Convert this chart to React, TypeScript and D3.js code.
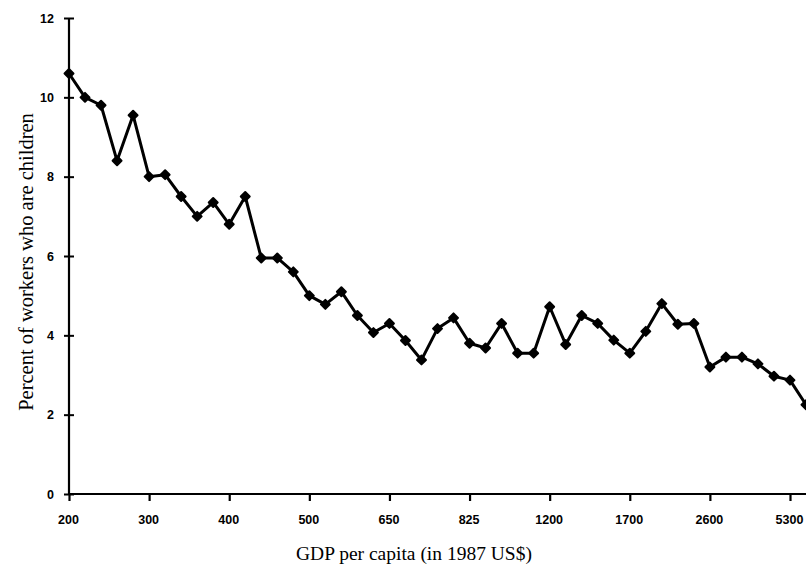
import { useRef, useEffect } from 'react'
import * as d3 from 'd3'

// percent of workers who are children, one value per GDP step
const childShare = [
  10.6, 10.0, 9.8, 8.4, 9.55, 8.0, 8.05, 7.5, 7.0, 7.35, 6.8, 7.5, 5.95, 5.95,
  5.6, 5.0, 4.78, 5.1, 4.5, 4.07, 4.3, 3.87, 3.38, 4.17, 4.44, 3.8, 3.68, 4.3,
  3.55, 3.55, 4.72, 3.77, 4.5, 4.3, 3.88, 3.55, 4.1, 4.8, 4.28, 4.3, 3.2, 3.45,
  3.45, 3.28, 2.97, 2.87, 2.25,
]
const xTickLabels = ['200', '300', '400', '500', '650', '825', '1200', '1700', '2600', '5300']
const xTickIndex = [0, 5, 10, 15, 20, 25, 30, 35, 40, 45]
const yTicks = [0, 2, 4, 6, 8, 10, 12]

const tickFont = '"Liberation Sans", Arial, sans-serif'
const titleFont = '"Liberation Serif", "Times New Roman", serif'

export default function App() {
  const ref = useRef<SVGSVGElement>(null)
  const width = 806
  const height = 566

  useEffect(() => {
    const svg = d3.select(ref.current)
    svg.selectAll('*').remove()

    const x = d3.scaleLinear().domain([0, 45]).range([69, 790])
    const y = d3.scaleLinear().domain([0, 12]).range([494, 18])

    // x axis
    const xAxis = svg
      .append('g')
      .attr('transform', `translate(0,${y(0)})`)
      .call(
        d3
          .axisBottom(x)
          .tickValues(xTickIndex)
          .tickSize(7)
          .tickPadding(14)
          .tickFormat((d, i) => xTickLabels[i])
      )
    xAxis.select('.domain').remove()
    xAxis
      .append('line')
      .attr('x1', x(0))
      .attr('x2', width)
      .attr('stroke', '#000')
      .attr('stroke-width', 2.2)
    xAxis.selectAll('.tick line').attr('stroke', '#000').attr('stroke-width', 2.2)
    xAxis
      .selectAll('.tick text')
      .attr('fill', '#000')
      .attr('font-family', tickFont)
      .attr('font-weight', 'bold')
      .attr('font-size', 12.5)
      .attr('dx', -1)

    // y axis
    const yAxis = svg
      .append('g')
      .attr('transform', `translate(${x(0)},0)`)
      .call(d3.axisLeft(y).tickValues(yTicks).tickSize(5).tickPadding(10))
    yAxis.select('.domain').remove()
    yAxis
      .append('line')
      .attr('y1', y(0))
      .attr('y2', y(12))
      .attr('stroke', '#000')
      .attr('stroke-width', 2.2)
    yAxis
      .selectAll('.tick line')
      .attr('x2', 5)
      .attr('x1', -5)
      .attr('stroke', '#000')
      .attr('stroke-width', 2)
    yAxis
      .selectAll('.tick text')
      .attr('fill', '#000')
      .attr('font-family', tickFont)
      .attr('font-weight', 'bold')
      .attr('font-size', 12.5)

    // series line
    const line = d3
      .line<number>()
      .x((d, i) => x(i))
      .y((d) => y(d))
    svg
      .append('path')
      .datum(childShare)
      .attr('d', line)
      .attr('fill', 'none')
      .attr('stroke', '#000')
      .attr('stroke-width', 3)
      .attr('stroke-linejoin', 'round')

    const marker = d3.symbol().type(d3.symbolSquare).size(40)
    svg
      .append('g')
      .selectAll('path')
      .data(childShare)
      .join('path')
      .attr('d', marker)
      .attr('transform', (d, i) => `translate(${x(i)},${y(d)}) rotate(45)`)
      .attr('fill', '#000')
      .attr('stroke', '#000')
      .attr('stroke-width', 2)
      .attr('stroke-linejoin', 'round')

    // titles
    svg
      .append('text')
      .attr('x', 414)
      .attr('y', 560)
      .attr('text-anchor', 'middle')
      .attr('font-family', titleFont)
      .attr('font-size', 19.5)
      .attr('fill', '#000')
      .text('GDP per capita (in 1987 US$)')

    svg
      .append('text')
      .attr('transform', 'translate(33,262) rotate(-90)')
      .attr('text-anchor', 'middle')
      .attr('font-family', titleFont)
      .attr('font-size', 20.5)
      .attr('fill', '#000')
      .text('Percent of workers who are children')
  }, [])

  return (
    <div style={{ position: 'absolute', left: 0, top: 0 }}>
      <svg ref={ref} width={width} height={height} style={{ display: 'block', background: '#fff' }}></svg>
    </div>
  )
}
